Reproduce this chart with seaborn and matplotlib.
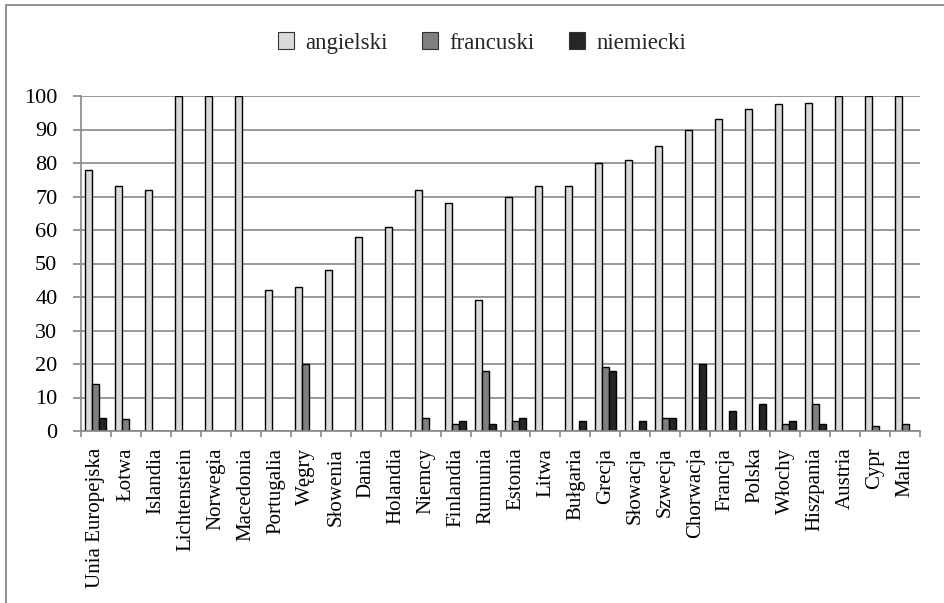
import matplotlib
matplotlib.use("Agg")
import matplotlib.pyplot as plt
from matplotlib.patches import Rectangle
from matplotlib.ticker import MultipleLocator, FixedLocator
import numpy as np
import pandas as pd
import seaborn as sns

countries = [
    "Unia Europejska", "Łotwa", "Islandia", "Lichtenstein", "Norwegia",
    "Macedonia", "Portugalia", "Węgry", "Słowenia", "Dania", "Holandia",
    "Niemcy", "Finlandia", "Rumunia", "Estonia", "Litwa", "Bułgaria",
    "Grecja", "Słowacja", "Szwecja", "Chorwacja", "Francja", "Polska",
    "Włochy", "Hiszpania", "Austria", "Cypr", "Malta",
]
angielski = [78, 73, 72, 100, 100, 100, 42, 43, 48, 58, 61, 72, 68, 39, 70,
             73, 73, 80, 81, 85, 90, 93, 96, 97.5, 98, 100, 100, 100]
francuski = [14, 3.5, 0, 0, 0, 0, 0, 20, 0, 0, 0, 4, 2, 18, 3,
             0, 0, 19, 0, 4, 0, 0, 0, 2, 8, 0, 1.5, 2]
niemiecki = [4, 0, 0, 0, 0, 0, 0, 0, 0, 0, 0, 0, 3, 2, 4,
             0, 3, 18, 3, 4, 20, 6, 8, 3, 2, 0, 0, 0]
languages = ["angielski", "francuski", "niemiecki"]
colors = ["#d9d9d9", "#7f7f7f", "#262626"]

df = pd.DataFrame({
    "kraj": countries * 3,
    "jezyk": np.repeat(languages, len(countries)),
    "procent": angielski + francuski + niemiecki,
})

sns.set_theme(style="white")
plt.rcParams["font.family"] = ["Liberation Serif", "DejaVu Serif"]

fig = plt.figure(figsize=(9.44, 6.03), dpi=100)
ax = fig.add_axes([81 / 944, 1 - 431 / 603, (920 - 81) / 944, (431 - 96) / 603])

sns.barplot(
    data=df, x="kraj", y="procent", hue="jezyk", order=countries,
    hue_order=languages, palette=colors, width=0.7, edgecolor="black",
    linewidth=1.0, errorbar=None, ax=ax, legend=False, saturation=1,
)

grid_c = "#888888"
ax.set_xlim(-0.5, len(countries) - 0.5)
ax.set_ylim(0, 100)
ax.yaxis.set_major_locator(MultipleLocator(10))
ax.set_axisbelow(True)
ax.grid(axis="y", color=grid_c, linewidth=1.2)
ax.set_xlabel("")
ax.set_ylabel("")

for side in ("top", "right"):
    ax.spines[side].set_visible(False)
for side in ("left", "bottom"):
    ax.spines[side].set_color(grid_c)
    ax.spines[side].set_linewidth(1.2)

ax.tick_params(axis="y", which="major", left=True, length=6, width=1.2,
               color=grid_c, pad=11, labelsize=16, labelcolor="black")
ax.tick_params(axis="x", which="major", bottom=False, length=0, pad=12,
               labelsize=15, labelrotation=90, labelcolor="black")
ax.xaxis.set_minor_locator(FixedLocator(np.arange(-0.5, len(countries), 1.0)))
ax.tick_params(axis="x", which="minor", bottom=True, length=4, width=1.2,
               color=grid_c)

handles = [Rectangle((0, 0), 1, 1, facecolor=c, edgecolor="#333333", linewidth=0.8)
           for c in colors]
fig.legend(handles, languages, loc="center", bbox_to_anchor=(482 / 944, 1 - 43 / 603),
           ncol=3, frameon=False, fontsize=16.5, handlelength=0.7, handleheight=0.7,
           handletextpad=0.5, columnspacing=1.5)

# outer frame around the chart
fig.add_artist(Rectangle((5.5 / 944, -0.1), 1.2, 1 - 4.5 / 603 + 0.1,
                         transform=fig.transFigure, fill=False,
                         edgecolor=grid_c, linewidth=1.3))

fig.savefig("out.png", dpi=100)
